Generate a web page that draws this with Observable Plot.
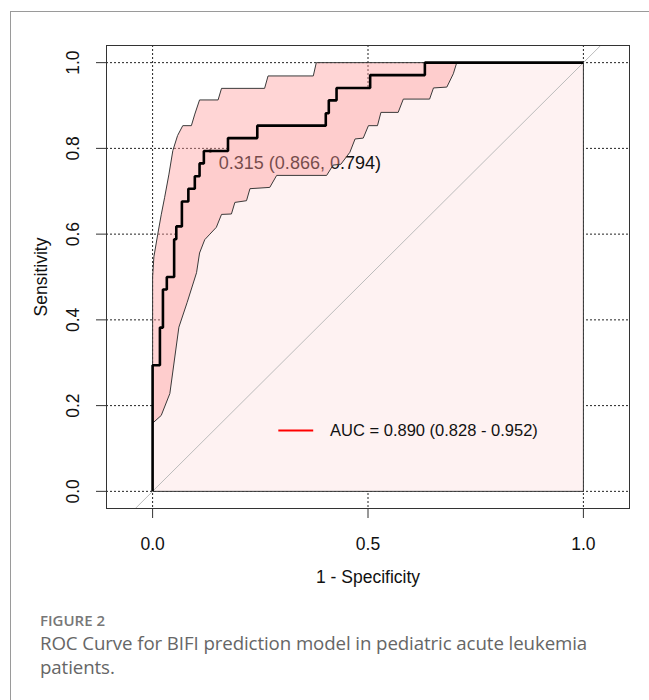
<!DOCTYPE html>
<html><head><meta charset="utf-8">
<script src="https://cdn.jsdelivr.net/npm/d3@7"></script>
<script src="https://cdn.jsdelivr.net/npm/@observablehq/plot@0.6"></script>
<style>
body{margin:0;background:#fff;width:649px;height:700px;overflow:hidden;position:relative}
#border{position:absolute;left:10px;top:11px;width:700px;height:720px;border-left:1.5px solid #9a9a9a;border-top:1.5px solid #9a9a9a}
#chart{position:absolute;left:0;top:0}
#caption{position:absolute;left:40px;top:609px;width:570px;font-family:"Open Sans",sans-serif;color:#666}
.fig{font-size:15px;font-weight:600;color:#777;line-height:22px}
.txt{font-size:18.7px;line-height:24px;letter-spacing:-0.1px}
</style></head><body>
<div id="border"></div>
<div id="chart"></div>
<div id="caption"><div class="fig">FIGURE 2</div><div class="txt">ROC Curve for BIFI prediction model in pediatric acute leukemia patients.</div></div>
<script>
// ROC curve (1 - specificity, sensitivity) step vertices
const rocFpr  = [0, 0, 0.017, 0.024, 0.033, 0.050, 0.055, 0.068, 0.083, 0.098, 0.109, 0.119, 0.175, 0.243, 0.402, 0.409, 0.427, 0.505, 0.632, 1];
const rocSens = [0, 0.294, 0.382, 0.471, 0.500, 0.588, 0.618, 0.676, 0.706, 0.735, 0.765, 0.794, 0.824, 0.853, 0.882, 0.912, 0.941, 0.971, 1, 1];

// Confidence band of sensitivity: upper bound
const ciUpFpr  = [0, 0.003, 0.012, 0.020, 0.028, 0.038, 0.047, 0.058, 0.070, 0.090, 0.098, 0.109, 0.152, 0.160, 0.260, 0.268, 0.373, 0.380, 1];
const ciUpSens = [0.50, 0.547, 0.600, 0.645, 0.686, 0.740, 0.795, 0.830, 0.853, 0.853, 0.880, 0.913, 0.913, 0.940, 0.940, 0.969, 0.969, 1.0, 1.0];
// lower bound
const ciLoFpr  = [0, 0.020, 0.040, 0.061, 0.080, 0.102, 0.109, 0.121, 0.133, 0.148, 0.160, 0.183, 0.191, 0.218, 0.226, 0.272, 0.288, 0.404, 0.419, 0.437, 0.458, 0.470, 0.489, 0.501, 0.522, 0.530, 0.570, 0.582, 0.643, 0.652, 0.683, 0.698, 0.706];
const ciLoSens = [0.159, 0.177, 0.228, 0.383, 0.440, 0.510, 0.556, 0.587, 0.600, 0.616, 0.646, 0.647, 0.674, 0.678, 0.706, 0.709, 0.737, 0.737, 0.761, 0.763, 0.791, 0.822, 0.824, 0.853, 0.853, 0.884, 0.884, 0.915, 0.915, 0.941, 0.943, 0.974, 1.0];

// best threshold and AUC
const thrValue = 0.315, thrSpec = 0.866, thrSens = 0.794;
const aucValue = 0.890, aucLow = 0.828, aucHigh = 0.952;

// axes
const xTicks = [0, 0.5, 1];
const yTicks = [0, 0.2, 0.4, 0.6, 0.8, 1];
const xDomain = [-0.107, 1.107];
const yDomain = [-0.04, 1.04];
const xTitle = "1 - Specificity";
const yTitle = "Sensitivity";

// legend placement (data units)
const legendPos = {x1: 0.293, x2: 0.374, xText: 0.412, y: 0.142};

const roc = rocFpr.map((x, i) => ({x, y: rocSens[i]}));
const aucPoly = [...roc, {x: d3.max(rocFpr), y: d3.min(rocSens)}, {x: d3.min(rocFpr), y: d3.min(rocSens)}];
const up = ciUpFpr.map((x, i) => ({x, y: ciUpSens[i]}));
const lo = ciLoFpr.map((x, i) => ({x, y: ciLoSens[i]})).reverse();
const band = [...up, ...lo, up[0]];
const diag = yDomain.map(v => ({x: v, y: v}));
const f3 = d3.format(".3f");
const thrLabel = `${f3(thrValue)} (${f3(thrSpec)}, ${f3(thrSens)})`;
const aucLabel = `AUC = ${f3(aucValue)} (${f3(aucLow)} - ${f3(aucHigh)})`;

const chart = Plot.plot({
  width: 649, height: 600,
  marginLeft: 106, marginRight: 20, marginTop: 45, marginBottom: 92,
  x: {domain: xDomain},
  y: {domain: yDomain},
  style: {fontFamily: '"Liberation Sans", Arial, sans-serif', fontSize: "17.5px", color: "#111", background: "transparent"},
  marks: [
    Plot.ruleX(xTicks, {stroke: "#222", strokeWidth: 1, strokeDasharray: "2,2"}),
    Plot.ruleY(yTicks, {stroke: "#222", strokeWidth: 1, strokeDasharray: "2,2"}),
    Plot.line(aucPoly, {x: "x", y: "y", curve: "step-after", fill: "#fef2f2", stroke: "#333", strokeWidth: 1}),
    Plot.line(diag, {x: "x", y: "y", stroke: "#bcbcbc", strokeWidth: 1}),
    Plot.dot([{x: 1 - thrSpec, y: thrSens}], {x: "x", y: "y", r: 1.8, fill: "#000", stroke: null}),
    Plot.text([{x: 1 - thrSpec, y: thrSens}], {x: "x", y: "y", text: () => thrLabel, textAnchor: "start", dx: 8.5, dy: 12.6, fontSize: 18, fill: "#111"}),
    Plot.line(band, {x: "x", y: "y", fill: "#ff9a9a", fillOpacity: 0.42, stroke: "#3a3a3a", strokeWidth: 1}),
    Plot.line(roc, {x: "x", y: "y", curve: "step-after", stroke: "#000", strokeWidth: 2.6, strokeLinejoin: "miter", strokeLinecap: "butt"}),
    Plot.ruleY([legendPos.y], {x1: legendPos.x1, x2: legendPos.x2, stroke: "#ff0000", strokeWidth: 2}),
    Plot.text([aucLabel], {x: legendPos.xText, y: legendPos.y, text: d => d, textAnchor: "start", fontSize: 16.5, fill: "#111"}),
    Plot.frame({stroke: "#333", strokeWidth: 1}),
    Plot.axisX(xTicks, {tickSize: 10, tickPadding: 19, tickFormat: d3.format(".1f"), label: xTitle, labelAnchor: "center", labelOffset: 74, labelArrow: "none", stroke: "#333"}),
    Plot.axisY(yTicks, {tickSize: 10, tickRotate: -90, tickPadding: 18, tickFormat: d3.format(".1f"), label: yTitle, labelAnchor: "center", labelOffset: 72, labelArrow: "none", stroke: "#333"})
  ]
});
document.getElementById("chart").appendChild(chart);
</script>
</body></html>
